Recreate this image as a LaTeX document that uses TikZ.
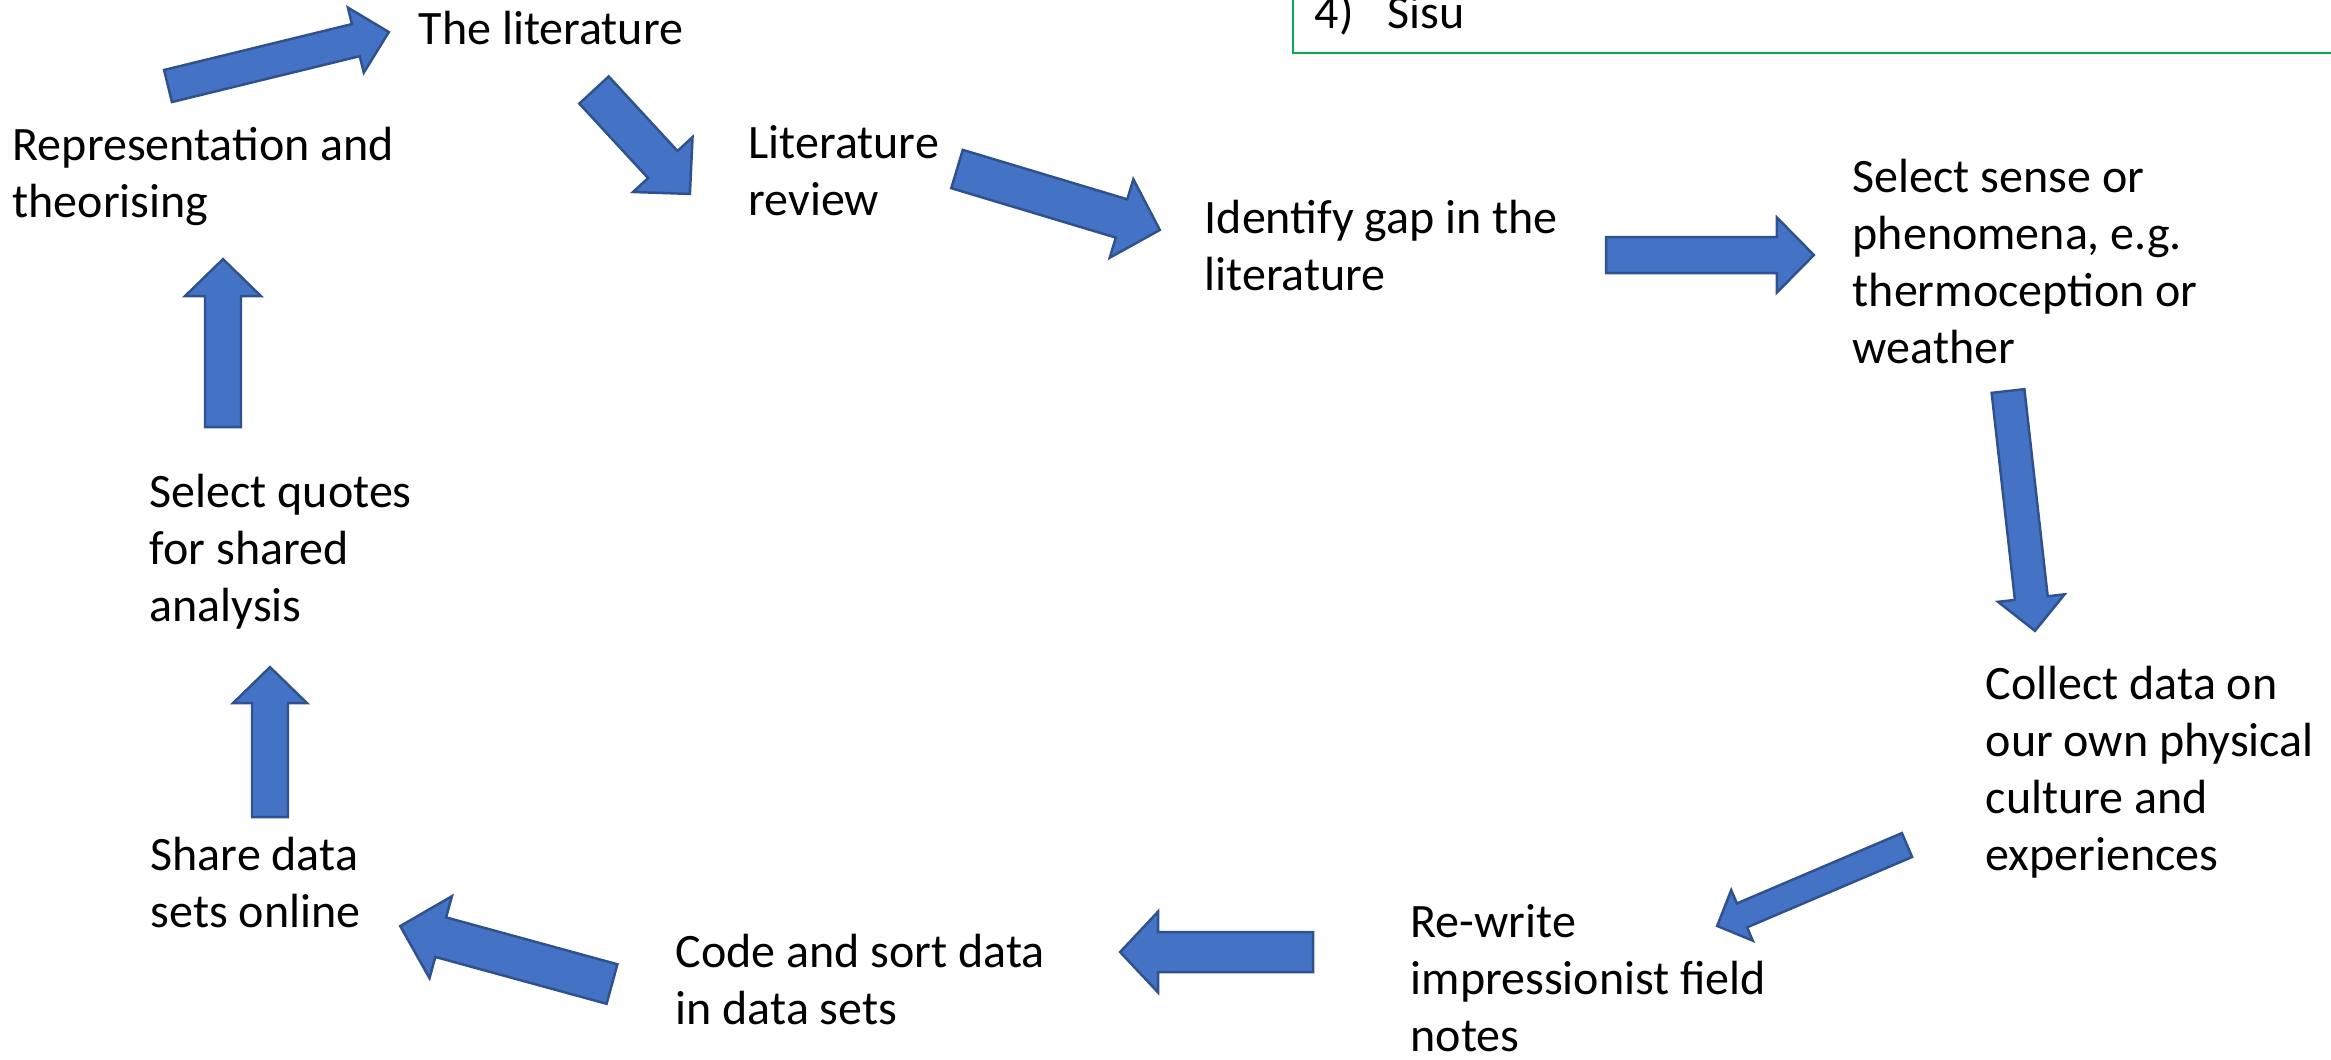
\documentclass[tikz,border=0pt]{standalone}
\usepackage{fontspec}
\setmainfont{Carlito}
\usetikzlibrary{calc}
\definecolor{arrowfill}{HTML}{4472C4}
\definecolor{arrowedge}{HTML}{2F528F}
\definecolor{boxgreen}{RGB}{0,176,80}
\tikzset{
  blockarrow/.style={fill=arrowfill,draw=arrowedge,line width=0.7pt,line join=miter},
  label text/.style={anchor=north west,inner sep=0pt,align=left,
    font=\fontsize{13.65}{16.2}\selectfont},
  listbox/.style={draw=boxgreen,line width=0.6pt}
}
\newcommand\blockarr[5]{%
  \path let \p1=($(#2)-(#1)$) in \pgfextra{%
    \pgfmathsetmacro\barang{atan2(\y1,\x1)}%
    \pgfmathsetmacro\barlen{veclen(\x1,\y1)/0.284528}%
    \global\let\barangG\barang \global\let\barlenG\barlen};
  \begin{scope}[shift={(#1)},rotate=\barangG]
    \draw[blockarrow] (0,{-#3/2}) -- ({\barlenG-#5},{-#3/2}) -- ({\barlenG-#5},{-#4/2})
      -- (\barlenG,0) -- ({\barlenG-#5},{#4/2}) -- ({\barlenG-#5},{#3/2}) -- (0,{#3/2}) -- cycle;
  \end{scope}}
\begin{document}
\begin{tikzpicture}[x=0.01cm,y=-0.01cm]
\useasboundingbox (0,0) rectangle (2331,1059);
% partial list box at top right
\begin{scope}
  \clip (0,0) rectangle (2331,1059);
  \draw[listbox] (1293,-100) rectangle (2400,53);
\end{scope}
\node[label text] (item) at (1314,-12) {\strut 4)};
\node[label text] (sisu) at (1387,-12) {\strut Sisu};
% labels (top = baseline - 40)
\node[label text] (lit) at (418,4) {\strut The literature};
\node[label text] (rep) at (12,120) {\strut Representation and\\theorising};
\node[label text] (litrev) at (748,118) {\strut Literature\\review};
\node[label text] (gap) at (1204,193) {\strut Identify gap in the\\literature};
\node[label text] (sense) at (1852,152) {\strut Select sense or\\phenomena, e.g.\\thermoception or\\weather};
\node[label text] (collect) at (1985,659) {\strut Collect data on\\our own physical\\culture and\\experiences};
\node[label text] (rewrite) at (1410,897) {\strut Re-write\\impressionist field\\notes};
\node[label text] (code) at (675,927) {\strut Code and sort data\\in data sets};
\node[label text] (share) at (150,830) {\strut Share data\\sets online};
\node[label text] (quotes) at (149,467) {\strut Select quotes\\for shared\\analysis};
% arrow end points
\coordinate (a1s) at (168,86);   \coordinate (a1e) at (389,32);
\coordinate (a2s) at (594,90);   \coordinate (a2e) at (690,194);
\coordinate (a3s) at (957,169);  \coordinate (a3e) at (1160,230);
\coordinate (a4s) at (1606,255); \coordinate (a4e) at (1814,255);
\coordinate (a5s) at (2008,391); \coordinate (a5e) at (2035,631);
\coordinate (a6s) at (1907,845); \coordinate (a6e) at (1717,926);
\coordinate (a7s) at (1313,952); \coordinate (a7e) at (1120,952);
\coordinate (a8s) at (612,984);  \coordinate (a8e) at (400,926);
\coordinate (a9s) at (270,817);  \coordinate (a9e) at (270,667);
\coordinate (a10s) at (223,427); \coordinate (a10e) at (223,259);
% block arrows
\blockarr{a1s}{a1e}{33}{67}{34}
\blockarr{a2s}{a2e}{40}{81}{40}
\blockarr{a3s}{a3e}{40}{82}{40}
\blockarr{a4s}{a4e}{36}{75}{37}
\blockarr{a5s}{a5e}{33}{67}{33}
\blockarr{a6s}{a6e}{26}{55}{27}
\blockarr{a7s}{a7e}{40}{81}{38}
\blockarr{a8s}{a8e}{41}{85}{42}
\blockarr{a9s}{a9e}{36}{74}{36}
\blockarr{a10s}{a10e}{36}{76}{37}
\end{tikzpicture}
\end{document}
